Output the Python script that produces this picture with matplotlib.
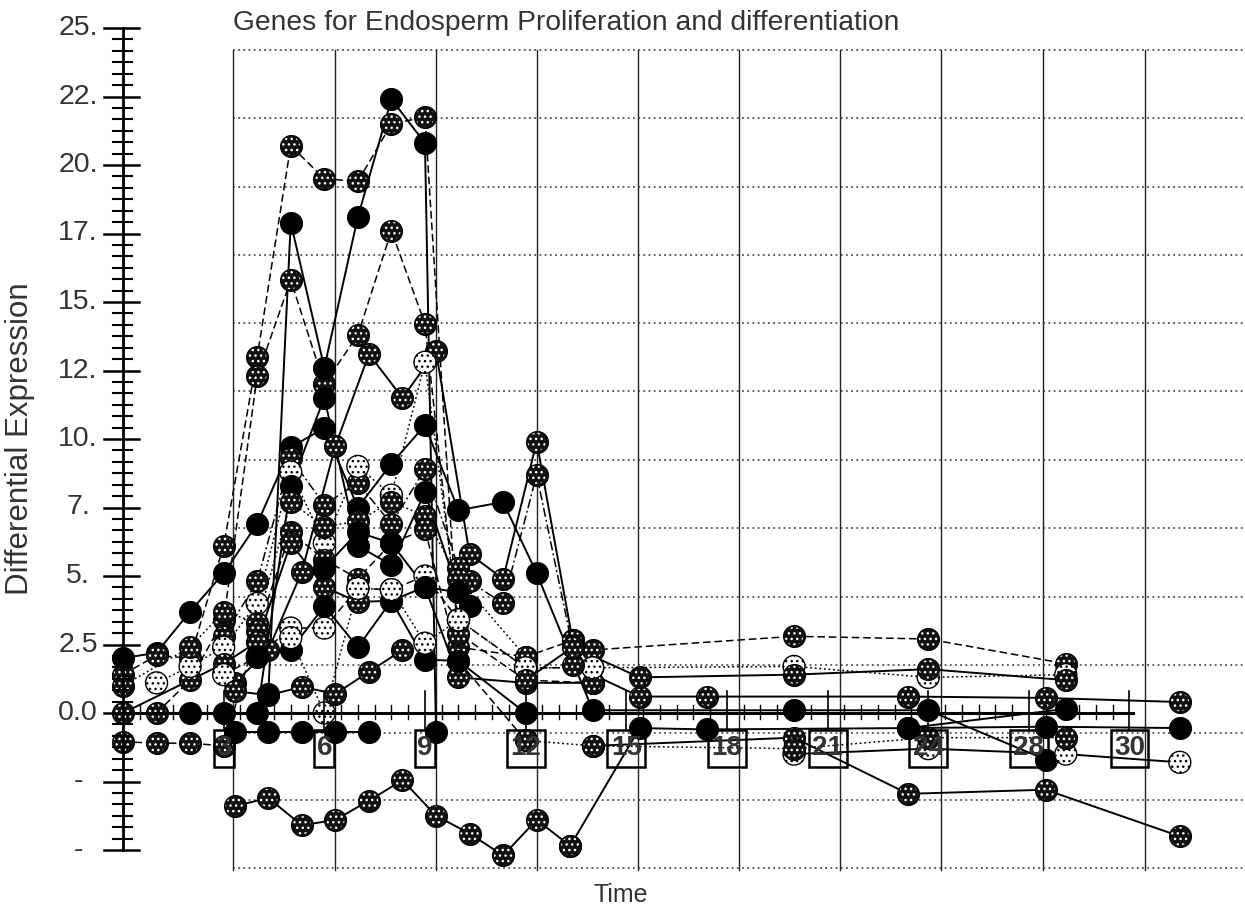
import matplotlib
matplotlib.use("Agg")
import matplotlib.pyplot as plt
from matplotlib.patches import Rectangle

plt.rcParams['font.family'] = ['Liberation Sans', 'DejaVu Sans']
plt.rcParams['hatch.linewidth'] = 1.0

# ---------------- text ----------------
title = "Genes for Endosperm Proliferation and differentiation"
x_label = "Time"
y_label = "Differential Expression"

y_tick_values = [25, 22.5, 20, 17.5, 15, 12.5, 10, 7.5, 5, 2.5, 0, -2.5, -5]
y_tick_labels = ["25.", "22.", "20.", "17.", "15.", "12.", "10.", "7.", "5.", "2.5", "0.0", "-", "-"]
x_tick_values = [3, 6, 9, 12, 15, 18, 21, 24, 27, 30]
x_tick_labels = ["3", "6", "9", "12", "15", "18", "21", "24", "28", "30"]

# ---------------- data (time, differential expression) ----------------
s01_t = [0, 1, 2, 3, 4, 5, 6, 7, 8, 9, 10, 11.33, 12.33, 14, 20, 24, 27.5]
s01_v = [2.0, 2.2, 3.7, 5.1, 6.9, 9.7, 10.4, 7.5, 9.1, 10.5, 7.4, 7.7, 5.1, 0.1, 0.1, 0.1, -1.7]

s02_t = [0, 1, 2, 3, 4, 5, 6, 7, 8, 9, 10, 12, 13.4, 14, 20, 24, 28.1]
s02_v = [1.4, 2.1, 2.0, 6.1, 13.0, 20.7, 19.5, 19.4, 21.5, 21.75, 2.4, 2.05, 2.65, 2.3, 2.8, 2.7, 1.8]

s03_t = [4.33, 5, 6, 7, 8, 9, 9.33]
s03_v = [0.7, 17.9, 12.6, 18.1, 22.4, 20.8, -0.7]

s04_t = [1, 2, 3, 4, 5, 6, 7, 8, 9, 10, 12, 14]
s04_v = [0.0, 1.2, 3.4, 12.3, 15.8, 12.0, 13.8, 17.6, 14.2, 2.9, 1.2, 1.1]

s05_t = [3.33, 4.33, 5.33, 6.33, 7.33, 8.33, 9.33, 10.33, 11.33, 12.33, 13.4]
s05_v = [1.1, 2.3, 5.15, 9.75, 13.1, 11.5, 13.2, 5.8, 4.9, 9.9, 2.65]

s06_t = [3, 4, 5, 6, 7, 8, 9, 10, 10.33, 11.33, 12.33, 13.4]
s06_v = [2.8, 4.8, 9.3, 7.6, 8.4, 6.9, 8.9, 5.3, 4.8, 4.0, 8.7, 2.4]

s07_t = [1, 2, 3, 4, 5, 6, 7, 8, 9, 10, 12, 14, 20, 24, 28.1]
s07_v = [1.1, 1.7, 2.4, 4.0, 8.8, 6.2, 9.0, 7.95, 12.8, 3.4, 1.65, 1.65, 1.7, 1.3, 1.4]

s08_t = [2, 3, 4, 5, 6, 7, 8, 9, 10]
s08_v = [0.0, 0.0, 0.0, 8.3, 11.5, 6.1, 5.4, 8.05, 4.4]

s09_t = [0, 2, 3, 4, 5, 6, 7, 8, 9, 10, 12]
s09_v = [1.0, 2.4, 3.7, 3.3, 7.7, 6.8, 7.0, 7.7, 7.2, 4.9, 2.05]

s10_t = [0, 1, 2, 3, 4, 5, 6, 7, 8, 9, 10, 12]
s10_v = [-1.05, -1.1, -1.1, -1.2, 3.0, 6.6, 5.6, 4.9, 6.2, 6.7, 1.9, -1.0]

s11_t = [0, 3, 4, 5, 6, 7, 8, 9, 10, 12, 14]
s11_v = [0.0, 1.8, 2.6, 6.2, 4.6, 4.05, 4.1, 4.6, 1.3, 1.1, 1.1]

s12_t = [3, 4, 5, 6, 7, 8, 9, 10, 12, 14]
s12_v = [1.4, 2.05, 3.1, 3.1, 4.55, 4.5, 5.0, 3.4, 1.65, 1.65]

s13_t = [4, 5, 6, 7, 8, 9, 10, 12]
s13_v = [2.05, 2.3, 3.9, 2.4, 4.1, 1.95, 1.9, 0.0]

s14_t = [6, 7, 8, 9, 10, 10.33]
s14_v = [5.3, 6.6, 6.2, 4.6, 4.4, 3.9]

s15_t = [3.33, 4.33, 5.33, 6.33, 7.33]
s15_v = [-0.7, -0.7, -0.7, -0.7, -0.7]

s16_t = [3.33, 4.33, 5.33, 6.33, 7.33, 8.33, 9.33, 10.33, 11.33, 12.33, 13.33]
s16_v = [-3.4, -3.1, -4.1, -3.9, -3.2, -2.45, -3.75, -4.4, -5.2, -3.9, -4.85]

s17_t = [13.33, 15.4, 17.4, 23.4, 28.1]
s17_v = [-4.85, -0.55, -0.6, -0.55, 0.15]

s18_t = [13.4, 15.4, 17.4, 23.4, 27.5, 31.5]
s18_v = [1.75, 0.6, 0.6, 0.6, 0.55, 0.4]

s19_t = [12, 13.4, 15.4, 20, 24, 28.1]
s19_v = [1.2, 2.4, 1.3, 1.4, 1.6, 1.2]

s20_t = [14, 20, 23.4, 27.5, 31.5]
s20_v = [-1.2, -0.9, -2.95, -2.8, -4.5]

s21_t = [20, 24, 28.1, 31.5]
s21_v = [-1.5, -1.3, -1.5, -1.8]

s22_t = [12, 14, 20, 24, 28.1]
s22_v = [-1.0, -1.2, -1.3, -0.9, -0.9]

s23_t = [23.4, 27.5, 31.5]
s23_v = [-0.55, -0.5, -0.55]

s24_t = [5, 6, 7, 8, 9, 10]
s24_v = [2.75, 0.0, 4.55, 4.5, 2.55, 3.4]

s25_t = [3.33, 4.33, 5.33, 6.33, 7.33, 8.33]
s25_v = [0.8, 0.65, 0.95, 0.7, 1.5, 2.3]

# marker kind: k = solid black, d = dark stipple, l = light stipple
series = [
    (s01_t, s01_v, 'k', '-'),
    (s02_t, s02_v, 'd', '--'),
    (s04_t, s04_v, 'd', '--'),
    (s05_t, s05_v, 'd', '-'),
    (s06_t, s06_v, 'd', '-.'),
    (s07_t, s07_v, 'l', ':'),
    (s08_t, s08_v, 'k', '-'),
    (s09_t, s09_v, 'd', ':'),
    (s10_t, s10_v, 'd', '--'),
    (s11_t, s11_v, 'd', '-'),
    (s12_t, s12_v, 'l', '--'),
    (s13_t, s13_v, 'k', '-'),
    (s14_t, s14_v, 'k', '-'),
    (s15_t, s15_v, 'k', '-'),
    (s17_t, s17_v, 'k', '-'),
    (s16_t, s16_v, 'd', '-'),
    (s18_t, s18_v, 'd', '-'),
    (s19_t, s19_v, 'd', '-'),
    (s20_t, s20_v, 'd', '-'),
    (s21_t, s21_v, 'l', '-'),
    (s22_t, s22_v, 'd', ':'),
    (s23_t, s23_v, 'k', '-'),
    (s24_t, s24_v, 'l', ':'),
    (s25_t, s25_v, 'd', '-'),
    (s03_t, s03_v, 'k', '-'),
]

# ---------------- figure / coordinate frame ----------------
PX_X0, PX_PER_T = 123.0, 33.55
PX_Y0, PX_PER_V = 713.0, 27.4
W, H = 1245, 908

fig = plt.figure(figsize=(W / 100, H / 100), dpi=100)
ax = fig.add_axes([0, 0, 1, 1])
ax.set_xlim(-PX_X0 / PX_PER_T, (W - PX_X0) / PX_PER_T)
ax.set_ylim((PX_Y0 - H) / PX_PER_V, PX_Y0 / PX_PER_V)
ax.axis('off')

# background grid frame (offset from data axes as in the scan)
grid_x = [3.28, 6.32, 9.33, 12.34, 15.35, 18.36, 21.37, 24.38, 27.42, 30.46]
grid_y = [24.2, 21.72, 19.2, 16.7, 14.23, 11.75, 9.23, 6.75, 4.23, 1.75, -0.73, -3.18, -5.66]
for gx in grid_x:
    ax.plot([gx, gx], [-5.73, 24.2], color='#222222', lw=1.0, zorder=1)
for gy in grid_y:
    ax.plot([3.28, 33.5], [gy, gy], color='#333333', lw=1.1,
            ls=(0, (1.2, 2.2)), zorder=1)

# left axis
ax.plot([0, 0], [-5, 25], color='black', lw=2.0, zorder=6)
major_step = 2.5
for yv in y_tick_values:
    ax.plot([-0.57, 0.48], [yv, yv], color='black', lw=1.8, zorder=6)
for k in range(12):
    base = -5 + k * major_step
    for j in range(1, 6):
        yy = base + j * major_step / 6
        ax.plot([-0.30, 0.27], [yy, yy], color='black', lw=1.5, zorder=6)
for yv, lab in zip(y_tick_values, y_tick_labels):
    ax.text(-1.34, yv, lab, ha='center', va='center', fontsize=20.5, color='#333333')

# bottom axis at zero
ax.plot([0, 30.1], [0, 0], color='black', lw=2.2, zorder=6)
for k in range(1, 61):
    xv = k * 0.5
    if xv in x_tick_values:
        continue
    ax.plot([xv, xv], [0.28, -0.22], color='black', lw=1.0, zorder=6)
box_bottom, box_h = -1.97, 1.35
for xv, lab in zip(x_tick_values, x_tick_labels):
    ax.plot([xv, xv], [0.8, box_bottom + box_h], color='black', lw=1.2, zorder=6)
    bw = 0.6 if len(lab) == 1 else 1.13
    ax.add_patch(Rectangle((xv - bw / 2, box_bottom), bw, box_h, fill=False,
                           edgecolor='black', lw=1.8, zorder=7))
    ax.text(xv, box_bottom + box_h / 2, lab, ha='center', va='center',
            fontsize=20, fontweight='bold', color='#333333', zorder=8)

# series lines
dash_map = {'-': '-', '--': (0, (5, 2.5)), ':': (0, (1.2, 1.8)), '-.': (0, (6, 2, 1.2, 2))}
for i, (t, v, m, ls) in enumerate(series):
    ax.plot(t, v, color='black', lw=1.4 if ls == '-' else 1.1, ls=dash_map[ls],
            zorder=3 + i * 0.001)

# series markers
S = 250
for i, (t, v, m, ls) in enumerate(series):
    z = 4 + i * 0.01
    if m == 'k':
        ax.scatter(t, v, s=S, c='black', edgecolors='black', linewidths=0.8, zorder=z)
    elif m == 'd':
        ax.scatter(t, v, s=S, facecolors='#111111', edgecolors='black', linewidths=0.8, zorder=z)
        ax.scatter(t, v, s=S * 0.7, facecolors='none', edgecolors='white', hatch='...',
                   linewidths=0, zorder=z + 0.001)
    else:
        ax.scatter(t, v, s=S, facecolors='white', edgecolors='black', hatch='...',
                   linewidths=1.0, zorder=z)

# titles
ax.text(3.28, 24.93, title, ha='left', va='baseline', fontsize=20.3, color='#333333')
ax.text(14.84, -6.64, x_label, ha='center', va='center', fontsize=18, color='#333333')
ax.text(-3.07, 10.0, y_label, ha='center', va='center', rotation=90, fontsize=22.5,
        color='#333333')

fig.savefig("out.png", dpi=100)
